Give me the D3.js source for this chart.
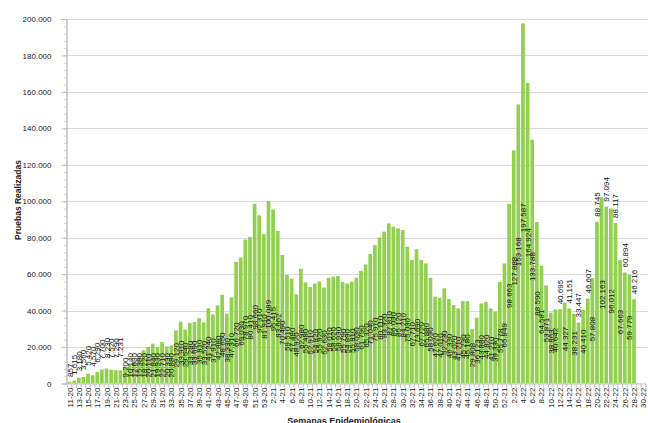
<!DOCTYPE html>
<html>
<head>
<meta charset="utf-8">
<script src="https://cdnjs.cloudflare.com/ajax/libs/d3/7.8.5/d3.min.js"></script>
<style>
  body { margin: 0; background: #fff; }
  svg { display: block; font-family: "Liberation Sans", Arial, sans-serif; }
</style>
</head>
<body>
<div id="chart"></div>
<script>
// semanas epidemiologicas: 11-20 .. 53-20, 1-21 .. 52-21, 1-22 .. 30-22
var weeks2020 = d3.range(11, 54).map(function(w) { return w + "-20"; });
var weeks2021 = d3.range(1, 53).map(function(w) { return w + "-21"; });
var weeks2022 = d3.range(1, 31).map(function(w) { return w + "-22"; });
var semanas = weeks2020.concat(weeks2021, weeks2022);

// pruebas realizadas por semana (las 2 ultimas semanas sin dato)
var pruebas = [
  857, 1615, 3180, 3560, 5420, 4570, 6290, 7700, 8230, 7520,
  7290, 7231, 9200, 10140, 12630, 15380, 18220, 20110, 21840, 19930,
  22710, 20330, 20880, 29120, 33910, 29540, 33280, 33690, 35810, 33520,
  41240, 37910, 42880, 48650, 38330, 47310, 66720, 69030, 78970, 80410,
  98660, 92310, 81910, 100089, 95415, 83662, 70490, 59510, 57480, 48920,
  62980, 55480, 52910, 54820, 55920, 52630, 58010, 58620, 58930, 55790,
  54890, 55810, 58030, 61790, 65320, 71040, 75910, 80110, 83320, 87810,
  86030, 85120, 84210, 75030, 67710, 73690, 67720, 65880, 58030, 47620,
  47010, 52230, 46330, 43020, 41210, 45230, 45180, 29808, 36123, 43880,
  44820, 41210, 39330, 55778, 65849,
  98663, 127888, 153168, 197587, 164924, 133788, 88590, 64581, 53871, 38863,
  40642, 40695, 44327, 41151, 38231, 33447, 40410, 46607, 57808, 88745,
  102163, 97094, 96012, 88117, 67663, 60894, 59779, 46216,
  null, null
];

var yTicks = [0, 20000, 40000, 60000, 80000, 100000, 120000, 140000, 160000, 180000, 200000];

var W = 648, H = 423;
var plotL = 66.5, plotT = 19, plotB = 383.5;

var svg = d3.select("#chart").append("svg").attr("width", W).attr("height", H);

var x = d3.scaleBand().domain(semanas).range([67.2, 67.2 + semanas.length * 4.627]).paddingInner(0.2).paddingOuter(0.1);
var y = d3.scaleLinear().domain([0, 200000]).range([plotB, plotT]);

var fmt = function(v) { return d3.format(",")(v).replace(/,/g, "."); };

// grid
svg.append("g").selectAll("line").data(yTicks.slice(1)).join("line")
  .attr("x1", plotL).attr("x2", W)
  .attr("y1", function(d) { return Math.round(y(d)) + 0.5; })
  .attr("y2", function(d) { return Math.round(y(d)) + 0.5; })
  .attr("stroke", "#d9d9d9").attr("stroke-width", 1);

// y axis
var yMinor = svg.append("g").attr("transform", "translate(" + plotL + ",0)")
  .call(d3.axisLeft(y).tickValues(d3.range(0, 200001, 4000)).tickSize(2).tickFormat(""));
var yAxis = svg.append("g").attr("transform", "translate(" + plotL + ",0)")
  .call(d3.axisLeft(y).tickValues(yTicks).tickSize(5).tickPadding(10).tickFormat(fmt));
svg.selectAll(".domain").attr("stroke", "#bfbfbf");
yMinor.selectAll(".tick line").attr("stroke", "#bfbfbf");
yAxis.selectAll(".tick line").attr("stroke", "#bfbfbf");
yAxis.selectAll(".tick text").attr("font-size", 8).attr("fill", "#222");

// bars
var data = semanas.map(function(s, i) { return {s: s, v: pruebas[i], i: i}; }).filter(function(d) { return d.v != null; });

svg.append("g").selectAll("rect").data(data).join("rect")
  .attr("x", function(d) { return x(d.s); })
  .attr("y", function(d) { return y(d.v); })
  .attr("width", x.bandwidth())
  .attr("height", function(d) { return y(0) - y(d.v); })
  .attr("fill", "#92d050");

// x axis
var xAxis = svg.append("g").attr("transform", "translate(0," + plotB + ")")
  .call(d3.axisBottom(x).tickSize(4).tickFormat(""));
xAxis.select(".domain").attr("stroke", "#bfbfbf");
xAxis.selectAll(".tick line").attr("stroke", "#bfbfbf")
  .attr("transform", "translate(" + (x.step() / 2) + ",0)");

svg.append("g").selectAll("text").data(semanas.filter(function(s, i) { return i % 2 == 0; })).join("text")
  .attr("transform", function(d) { return "translate(" + (x(d) + x.bandwidth() / 2 + 3) + "," + (plotB + 4) + ") rotate(-90)"; })
  .attr("text-anchor", "end")
  .attr("font-size", 8)
  .attr("fill", "#222")
  .text(function(d) { return d; });

// etiquetas de datos (como quedaron en el original: unas sobre la barra, otras dentro)
var labelBase = function(d) {
  var i = d.i;
  if (i < 12) return y(d.v) - 5 - 0.7 * i;
  if (i < 23) return plotB - 6;
  if (i < 95) return y(d.v * 0.3);
  if (i < 106) return y(d.v * 0.42);
  return (i % 2 == 0) ? y(d.v) - 5 : y(d.v * 0.4);
};

svg.append("g").selectAll("text").data(data).join("text")
  .attr("transform", function(d) { return "translate(" + (x(d.s) + x.bandwidth() / 2 + 3) + "," + labelBase(d) + ") rotate(-90)"; })
  .attr("font-size", 8)
  .attr("fill", "#111")
  .text(function(d) { return fmt(d.v); });

// axis titles
svg.append("text")
  .attr("transform", "translate(21,200) rotate(-90)")
  .attr("text-anchor", "middle")
  .attr("font-size", 8.5).attr("font-weight", "bold").attr("fill", "#222")
  .text("Pruebas Realizadas");

svg.append("text")
  .attr("x", 344).attr("y", 424)
  .attr("text-anchor", "middle")
  .attr("font-size", 9).attr("font-weight", "bold").attr("fill", "#222")
  .text("Semanas Epidemiológicas");
</script>
</body>
</html>
